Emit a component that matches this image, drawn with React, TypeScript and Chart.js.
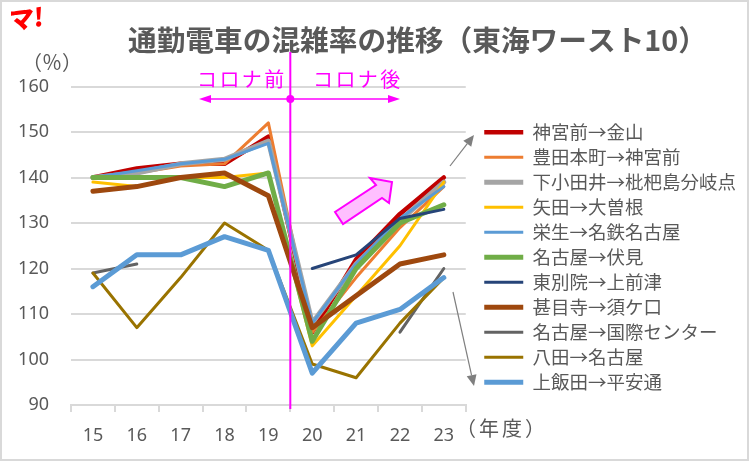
import React, { useEffect, useRef } from "react";
import { Chart, registerables } from "chart.js";

Chart.register(...registerables);

const years = ["15", "16", "17", "18", "19", "20", "21", "22", "23"];
const jingumae = [140, 142, 143, 143, 149, 106, 122, 132, 140];
const toyotahonmachi = [140, 141, 142.5, 143, 152, 106, 118, 129, 138];
const shimootai = [140, 141, 143, 144, 148, 108, 121, 130.5, 139];
const yada = [139, 138, 140, 140, 141, 103, 114, 125, 139];
const sako = [140, 141.5, 143, 144, 147.5, 108, 121, 131, 138];
const meitetsuFushimi = [140, 140, 140, 138, 141, 104, 120, 130, 134];
const higashibetsuin = [null, null, null, null, null, 120, 123, 131, 133];
const jimokuji = [137, 138, 140, 141, 136, 107, 114, 121, 123];
const kokusai = [119, 121, null, null, null, null, null, 106, 120];
const hatta = [119, 107, 118, 130, 124, 99, 96, 108, 118];
const kamiiida = [116, 123, 123, 127, 124, 97, 108, 111, 118];

const names = [
  "神宮前→金山", "豊田本町→神宮前", "下小田井→枇杷島分岐点", "矢田→大曽根", "栄生→名鉄名古屋",
  "名古屋→伏見", "東別院→上前津", "甚目寺→須ケ口", "名古屋→国際センター", "八田→名古屋", "上飯田→平安通",
];
const seriesValues = [jingumae, toyotahonmachi, shimootai, yada, sako, meitetsuFushimi, higashibetsuin, jimokuji, kokusai, hatta, kamiiida];
const colors = ["#C00000", "#ED7D31", "#A5A5A5", "#FFC000", "#5B9BD5", "#70AD47", "#264478", "#9E480E", "#636363", "#997300", "#5B9BD5"];
const widths = [4.5, 3, 5, 3, 3, 5, 3, 5, 3, 3, 5];

const chartTitle = "通勤電車の混雑率の推移（東海ワースト10）";
const yUnit = "（％）";
const xUnit = "（年度）";
const beforeLabel = "コロナ前";
const afterLabel = "コロナ後";
const cjk = '"Noto Sans CJK JP"';
const MAGENTA = "#FF00FF";
const TEXT = "#595959";
const GRID = "#D9D9D9";

function arrow(ctx: CanvasRenderingContext2D, x1: number, y1: number, x2: number, y2: number, color: string, w: number, hl: number, hw: number) {
  const a = Math.atan2(y2 - y1, x2 - x1);
  ctx.strokeStyle = color;
  ctx.fillStyle = color;
  ctx.lineWidth = w;
  ctx.beginPath();
  ctx.moveTo(x1, y1);
  ctx.lineTo(x2 - Math.cos(a) * hl, y2 - Math.sin(a) * hl);
  ctx.stroke();
  ctx.beginPath();
  ctx.moveTo(x2, y2);
  ctx.lineTo(x2 - Math.cos(a) * hl - Math.sin(a) * hw, y2 - Math.sin(a) * hl + Math.cos(a) * hw);
  ctx.lineTo(x2 - Math.cos(a) * hl + Math.sin(a) * hw, y2 - Math.sin(a) * hl - Math.cos(a) * hw);
  ctx.closePath();
  ctx.fill();
}

const backgroundPlugin = {
  id: "sheet",
  beforeDraw(chart: any) {
    const { ctx, width, height } = chart;
    ctx.save();
    ctx.fillStyle = "#fff";
    ctx.fillRect(0, 0, width, height);
    ctx.strokeStyle = GRID;
    ctx.lineWidth = 2;
    ctx.strokeRect(1, 1, width - 2, height - 2);
    ctx.restore();
  },
};

const notesPlugin = {
  id: "notes",
  afterDraw(chart: any) {
    const { ctx, scales } = chart;
    const cx = scales.x.getPixelForValue(4.5);
    ctx.save();
    // logo
    ctx.save();
    ctx.translate(9, 30);
    ctx.rotate(-0.12);
    ctx.transform(1, 0, -0.12, 1, 0, 0);
    ctx.font = `900 25px ${cjk}`;
    ctx.fillStyle = "#FF0000";
    ctx.textAlign = "left";
    ctx.textBaseline = "alphabetic";
    ctx.fillText("マ!", 0, 0);
    ctx.restore();

    ctx.textBaseline = "middle";
    ctx.textAlign = "left";
    ctx.fillStyle = TEXT;
    ctx.font = `bold 28.7px ${cjk}`;
    ctx.fillText(chartTitle, 128, 40);

    ctx.font = `20px ${cjk}`;
    ctx.fillText(yUnit, 22, 62);
    (ctx as any).letterSpacing = "3px";
    ctx.fillText(xUnit, 456, 428);
    (ctx as any).letterSpacing = "0px";

    // corona divider
    ctx.strokeStyle = MAGENTA;
    ctx.lineWidth = 2;
    ctx.beginPath();
    ctx.moveTo(cx, 52);
    ctx.lineTo(cx, 409);
    ctx.stroke();
    arrow(ctx, cx, 99, 199, 99, MAGENTA, 1.5, 12, 4);
    arrow(ctx, cx, 99, 400, 99, MAGENTA, 1.5, 12, 4);
    ctx.fillStyle = MAGENTA;
    ctx.beginPath();
    ctx.arc(cx, 99, 4, 0, Math.PI * 2);
    ctx.fill();
    ctx.font = `20px ${cjk}`;
    (ctx as any).letterSpacing = "2.4px";
    ctx.fillText(beforeLabel, 197, 79);
    ctx.fillText(afterLabel, 313, 79);
    (ctx as any).letterSpacing = "0px";

    // block arrow
    ctx.fillStyle = "#FFBFFF";
    ctx.strokeStyle = MAGENTA;
    ctx.lineWidth = 2;
    ctx.beginPath();
    const block = [[335, 212], [343, 224], [382, 198], [389, 203], [392, 182], [370, 178], [376, 185]];
    block.forEach(([x, y], i) => (i ? ctx.lineTo(x, y) : ctx.moveTo(x, y)));
    ctx.closePath();
    ctx.fill();
    ctx.stroke();

    // grey pointers
    arrow(ctx, 450, 166, 474, 135, "#7F7F7F", 1.2, 11, 5);
    arrow(ctx, 453, 292, 474, 386, "#7F7F7F", 1.2, 11, 5);
    ctx.restore();
  },
};

export default function App() {
  const ref = useRef<HTMLCanvasElement>(null);
  useEffect(() => {
    const chart = new Chart(ref.current!, {
      type: "line",
      data: {
        labels: years,
        datasets: names.map((label, i) => ({
          label,
          data: seriesValues[i],
          borderColor: colors[i],
          backgroundColor: colors[i],
          borderWidth: widths[i],
          borderCapStyle: "round",
          borderJoinStyle: "round",
          pointRadius: 0,
          tension: 0,
          spanGaps: false,
          order: -i,
        })),
      },
      options: {
        responsive: false,
        animation: false,
        layout: { padding: { top: 86.5, bottom: 18, left: 0, right: 3 } },
        plugins: {
          title: { display: false },
          tooltip: { enabled: false },
          legend: {
            display: true,
            position: "right",
            maxWidth: 320,
            align: "start",
            title: { display: true, text: " ", padding: 0, font: { size: 10, lineHeight: 3 } },
            labels: {
              usePointStyle: true,
              pointStyle: "line",
              pointStyleWidth: 39,
              padding: 6.5,
              color: TEXT,
              font: { family: cjk, size: 18.5 },
              sort: (a: any, b: any) => a.datasetIndex - b.datasetIndex,
            },
          },
        },
        scales: {
          x: {
            type: "category",
            offset: true,
            afterFit(s: any) { s.height = 38; },
            border: { display: true, color: GRID, width: 2 },
            grid: { display: true, drawOnChartArea: false, offset: true, color: GRID, lineWidth: 2, tickLength: 7 },
            ticks: { color: TEXT, padding: 13, maxRotation: 0, font: { family: '"Noto Sans"', size: 18 } },
          },
          y: {
            min: 90,
            max: 160,
            afterFit(s: any) { s.width = 71; },
            border: { display: false },
            grid: { color: GRID, lineWidth: 2, drawTicks: false },
            ticks: { stepSize: 10, color: TEXT, padding: 22, font: { family: '"Noto Sans"', size: 18 } },
          },
          gutter: {
            type: "linear",
            position: "right",
            min: 0,
            max: 1,
            afterFit(s: any) { s.width = 12; },
            border: { display: false },
            grid: { display: false, drawTicks: false },
            ticks: { display: false },
          },
        },
      } as any,
      plugins: [backgroundPlugin, notesPlugin],
    } as any);
    return () => chart.destroy();
  }, []);
  return (
    <div style={{ position: "absolute", left: 0, top: 0, width: 749, height: 461 }}>
      <canvas ref={ref} width={749} height={461} style={{ display: "block" }} />
    </div>
  );
}
